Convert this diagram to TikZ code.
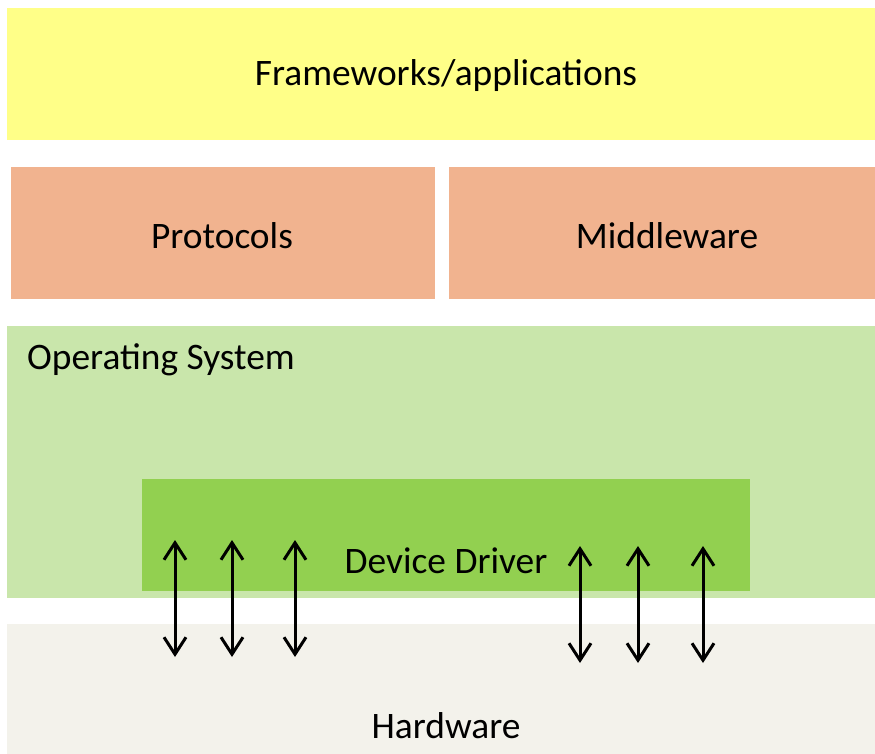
\documentclass[tikz,border=0pt]{standalone}
\usepackage{fontspec}
\setmainfont{Carlito}
\usetikzlibrary{arrows.meta}
\definecolor{appyellow}{RGB}{255,255,136}
\definecolor{midsalmon}{RGB}{241,179,143}
\definecolor{ospale}{RGB}{201,230,171}
\definecolor{drvgreen}{RGB}{146,208,80}
\definecolor{hwgrey}{RGB}{243,242,235}
\tikzset{
  layer/.style={draw=none, inner sep=0pt, outer sep=0pt, anchor=north west},
  lbl/.style={inner sep=0pt, font=\fontsize{37.4}{42}\selectfont},
  bus/.style={line width=3pt, {Straight Barb[length=17pt,width=22pt,line width=3pt]}-{Straight Barb[length=17pt,width=22pt,line width=3pt]}}
}
\begin{document}
\begin{tikzpicture}[x=1pt,y=-1pt]
  \fill[white] (0,0) rectangle (875,754);
  \useasboundingbox (0,0) rectangle (875,754);
  % stacked layers
  \node[layer, fill=appyellow, minimum width=868pt, minimum height=132pt] (apps) at (7,8) {};
  \node[layer, fill=midsalmon, minimum width=424pt, minimum height=132pt] (proto) at (11,167) {};
  \node[layer, fill=midsalmon, minimum width=426pt, minimum height=132pt] (middle) at (449,167) {};
  \node[layer, fill=ospale, minimum width=868pt, minimum height=272pt] (os) at (7,326) {};
  \node[layer, fill=drvgreen, minimum width=608pt, minimum height=112pt] (drv) at (142,479) {};
  \node[layer, fill=hwgrey, minimum width=868pt, minimum height=130pt] (hw) at (7,624) {};
  % labels
  \node[lbl] (appsT) at (446,76) {Frameworks/applications};
  \node[lbl] (protoT) at (222,236) {Protocols};
  \node[lbl] (middleT) at (667,236) {Middleware};
  \node[lbl, anchor=west] (osT) at (27,360) {Operating System};
  \node[lbl] (drvT) at (446,561) {Device Driver};
  \node[lbl] (hwT) at (446,726) {Hardware};
  % driver <-> hardware links
  \foreach \i/\x/\t/\b in {1/175/540/657, 2/232/540/657, 3/295/540/657,
                           4/580/546/663, 5/638/546/663, 6/703/546/663} {
    \coordinate (up\i) at (\x,\t);
    \coordinate (dn\i) at (\x,\b);
    \draw[bus] (up\i) -- (dn\i);
  }
\end{tikzpicture}
\end{document}
